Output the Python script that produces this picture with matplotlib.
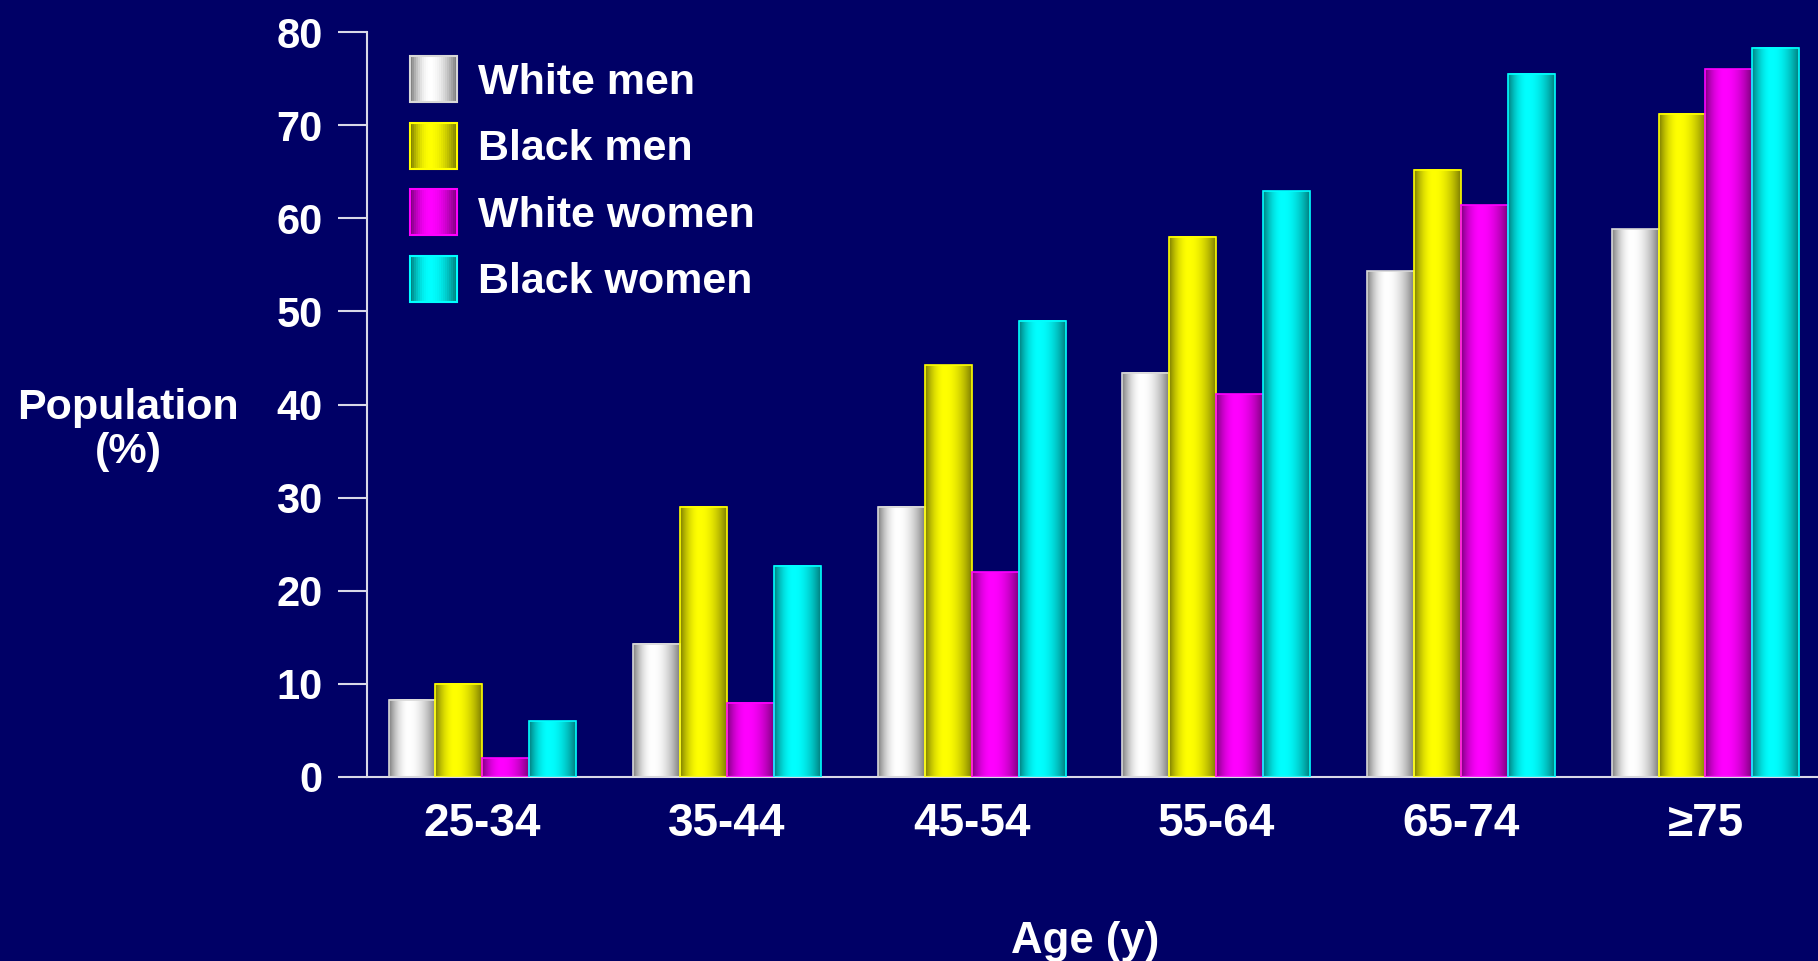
import matplotlib
matplotlib.use('Agg')

import numpy as np
import matplotlib.pyplot as plt
from matplotlib.colors import to_rgb
from matplotlib.patches import Rectangle
from matplotlib.legend_handler import HandlerBase

plt.rcParams['font.family'] = ['Liberation Sans', 'DejaVu Sans']
plt.rcParams['font.weight'] = 'bold'

BG = '#000066'
AXIS = '#d8d8e8'

age_groups = ['25-34', '35-44', '45-54', '55-64', '65-74', '\u226575']
series = ['White men', 'Black men', 'White women', 'Black women']
white_men = [8.3, 14.3, 29.0, 43.4, 54.3, 58.8]
black_men = [10.0, 29.0, 44.2, 58.0, 65.2, 71.2]
white_women = [2.0, 8.0, 22.0, 41.1, 61.4, 76.0]
black_women = [6.0, 22.7, 49.0, 62.9, 75.5, 78.3]
values = [white_men, black_men, white_women, black_women]

COLORS = ['#ffffff', '#ffff00', '#ff00ff', '#00ffff']
EDGES = ['#d8d8d8', '#ffff00', '#ff00ff', '#00ffff']


def shade_row(color, n=64):
	# cylinder-like shading: dark edges, bright band a bit left of centre
	t = np.linspace(0, 1, n)
	peak = 0.42
	d = np.where(t < peak, (peak - t) / peak, (t - peak) / (1 - peak))
	v = 1 - d ** 2
	light = np.array(to_rgb(color))
	dark = light * 0.5
	return dark + v[:, None] * (light - dark)


class GradientHandler(HandlerBase):
	def __init__(self, color, edge):
		super().__init__()
		self.color = color
		self.edge = edge

	def create_artists(self, legend, orig_handle, xdescent, ydescent, width, height, fontsize, trans):
		row = shade_row(self.color, 24)
		step = width / len(row)
		arts = []
		for i, c in enumerate(row):
			arts.append(Rectangle((-xdescent + i * step, -ydescent), step * 1.05, height,
				facecolor=c, edgecolor='none', transform=trans))
		arts.append(Rectangle((-xdescent, -ydescent), width, height, facecolor='none',
			edgecolor=self.edge, lw=1.5, transform=trans))
		return arts


W, H = 1818, 961
fig = plt.figure(figsize=(W / 100, H / 100), dpi=100, facecolor=BG)
ax = fig.add_axes([367 / W, 184 / H, 1 - 367 / W, (929 - 184) / H])
ax.set_facecolor(BG)

x = np.arange(len(age_groups))
bw = 0.192
for i, vals in enumerate(values):
	xs = x + (i - 1.5) * bw
	bars = ax.bar(xs, vals, bw, facecolor='none', edgecolor=EDGES[i], linewidth=1.2, zorder=3)
	img = shade_row(COLORS[i])[None, :, :]
	for b in bars:
		ax.imshow(img, extent=[b.get_x(), b.get_x() + b.get_width(), 0, b.get_height()],
			aspect='auto', interpolation='bilinear', zorder=2)

ax.set_xlim(-0.472, 5.460)
ax.set_ylim(0, 80)
ax.set_yticks(range(0, 81, 10))
ax.set_xticks(x)
ax.set_xticklabels(age_groups)

for s in ['top', 'right']:
	ax.spines[s].set_visible(False)
for s in ['left', 'bottom']:
	ax.spines[s].set_color(AXIS)
	ax.spines[s].set_linewidth(1.5)

ax.tick_params(axis='y', direction='out', length=21, width=1.5, color=AXIS,
	labelcolor='white', labelsize=30, pad=11)
ax.tick_params(axis='x', length=0, labelcolor='white', labelsize=33, pad=18)

fig.text(128 / W, 1 - 430 / H, 'Population\n(%)', ha='center', va='center',
	multialignment='center', color='white', fontsize=31, linespacing=1.1)
fig.text(1085 / W, 8 / H, 'Age (y)', ha='center', va='baseline', color='white', fontsize=31.5)

proxies = [Rectangle((0, 0), 1, 1) for _ in series]
hmap = {p: GradientHandler(COLORS[i], EDGES[i]) for i, p in enumerate(proxies)}
leg = ax.legend(proxies, series, handler_map=hmap, loc='upper left',
	bbox_to_anchor=(410 / W, 1 - 56 / H), bbox_transform=fig.transFigure,
	frameon=False, fontsize=31, handlelength=1.09, handleheight=1.27,
	handletextpad=0.49, labelspacing=0.465, borderpad=0, borderaxespad=0)
for t in leg.get_texts():
	t.set_color('white')

fig.savefig('out.png', dpi=100, facecolor=BG)
